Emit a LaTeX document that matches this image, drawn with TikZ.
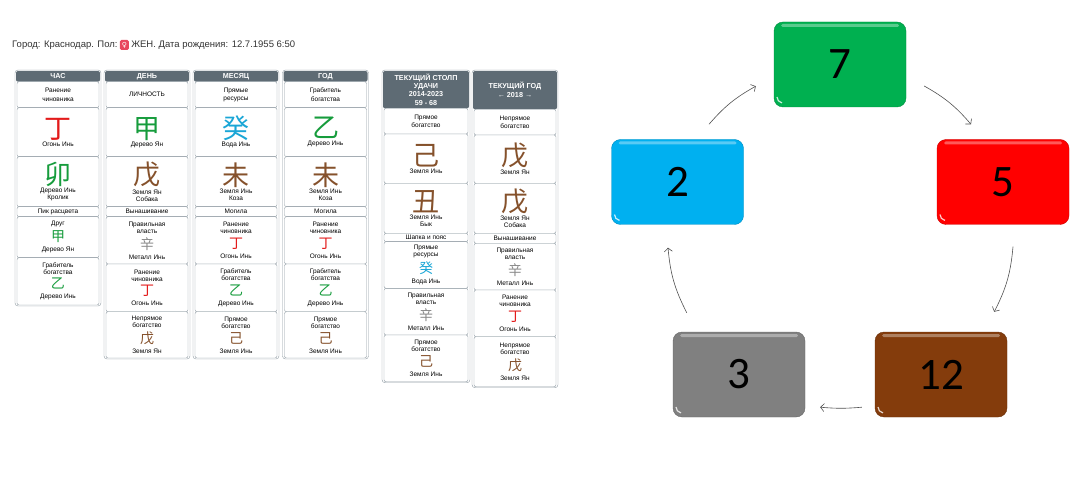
\documentclass[tikz,border=0pt]{standalone}
\usepackage{fontspec}
\setmainfont{Liberation Sans}
\newfontfamily\cjk{Noto Sans CJK SC}
\newfontfamily\numfont{Carlito}
\newfontfamily\symfont{DejaVu Sans}
\usetikzlibrary{arrows.meta,fit,positioning}
\definecolor{chartLine}{HTML}{8E9AA2}
\definecolor{headSlate}{HTML}{5E6B74}
\definecolor{infoText}{HTML}{333333}
\definecolor{genderPink}{HTML}{E8475F}
\definecolor{fireRed}{HTML}{E31B1B}
\definecolor{woodGreen}{HTML}{169C3C}
\definecolor{waterBlue}{HTML}{1AA6D6}
\definecolor{earthBrown}{HTML}{85512B}
\definecolor{metalGray}{HTML}{8A8A8A}
\definecolor{boxGreen}{HTML}{00B050}
\definecolor{boxRed}{HTML}{FF0000}
\definecolor{boxBlue}{HTML}{00B0F0}
\definecolor{boxBrown}{HTML}{843C0C}
\definecolor{boxGray}{HTML}{808080}
\definecolor{arrowGray}{HTML}{505050}
\newcommand{\bigsign}[2]{{\cjk\fontsize{27}{27}\selectfont\color{#1}#2}}
\newcommand{\smallsign}[2]{\\[3pt]{\cjk\fontsize{14}{14}\selectfont\color{#1}#2}\\[3pt]}
\tikzset{
  info/.style={font=\fontsize{9.5}{11}\selectfont, text=infoText,
    inner sep=0pt, text height=7pt, text depth=2pt},
  gender sign/.style={fill=genderPink, rounded corners=1.5pt, text=white,
    font=\symfont\fontsize{7}{7}\selectfont, minimum width=9pt,
    minimum height=10pt, inner sep=0pt},
  col head/.style={fill=headSlate, text=white, rounded corners=2pt,
    font=\bfseries\fontsize{7.2}{8.2}\selectfont, align=center,
    inner sep=0pt, outer sep=0pt, anchor=north},
  cell/.style={draw=chartLine, fill=white, rounded corners=2pt,
    align=center, inner sep=0pt, outer sep=0pt, minimum width=82pt,
    font=\fontsize{6.5}{7}\selectfont},
  role cell/.style={cell, font=\fontsize{6.5}{8.5}\selectfont},
  panel/.style={draw=chartLine, rounded corners=3pt, inner sep=1pt},
  cycle box/.style={rounded corners=9pt, minimum width=132pt,
    minimum height=85pt, inner sep=0pt,
    font=\numfont\fontsize{45}{45}\selectfont,
    path picture={
      \fill[white, opacity=.35, rounded corners=1.5pt]
        ([xshift=7pt,yshift=-2pt]path picture bounding box.north west)
        rectangle ([xshift=-7pt,yshift=-5pt]path picture bounding box.north east);
      \draw[white, opacity=.8, line width=1.2pt]
        ([xshift=3pt,yshift=10pt]path picture bounding box.south west)
        arc[start angle=180, end angle=260, radius=6pt];
    }},
  cycle arrow/.style={-{Straight Barb[length=3.5pt,width=8pt]},
    draw=arrowGray, line width=0.6pt}
}
\begin{document}
\begin{tikzpicture}[x=1pt, y=-1pt]
  \useasboundingbox (0,0) rectangle (1089,486);
  % birth data line
  \node[info, anchor=west] (cityInfo) at (12,45) {Город: Краснодар. Пол:};
  \node[gender sign, right=2pt of cityInfo] (sexSign) {♀};
  \node[info, right=2pt of sexSign] (birthInfo) {ЖЕН. Дата рождения: 12.7.1955 6:50};

  % hour pillar
  \node[col head, minimum width=84pt, minimum height=10.7pt] (hourHead) at (58,71) {ЧАС};
  \node[role cell, minimum height=26pt, below=0pt of hourHead] (hourRole) {Ранение\\чиновника};
  \node[cell, minimum height=49pt, below=0pt of hourRole] (hourStem) {\bigsign{fireRed}{丁}\\[1pt]Огонь Инь};
  \node[cell, minimum height=50pt, below=0pt of hourStem] (hourBranch) {\bigsign{woodGreen}{卯}\\[1pt]Дерево Инь\\Кролик};
  \node[cell, minimum height=10pt, below=0pt of hourBranch] (hourStage) {Пик расцвета};
  \node[cell, minimum height=41pt, below=0pt of hourStage] (hourHidA) {Друг\smallsign{woodGreen}{甲}Дерево Ян};
  \node[cell, minimum height=47.3pt, below=0pt of hourHidA] (hourHidB) {Грабитель\\богатства\smallsign{woodGreen}{乙}Дерево Инь};
  \node[panel, fit=(hourHead)(hourHidB)] (hourPanel) {};

  % day pillar
  \node[col head, minimum width=84pt, minimum height=10.7pt] (dayHead) at (147,71) {ДЕНЬ};
  \node[role cell, minimum height=26pt, below=0pt of dayHead] (dayRole) {ЛИЧНОСТЬ};
  \node[cell, minimum height=49pt, below=0pt of dayRole] (dayStem) {\bigsign{woodGreen}{甲}\\[1pt]Дерево Ян};
  \node[cell, minimum height=50pt, below=0pt of dayStem] (dayBranch) {\bigsign{earthBrown}{戊}\\[1pt]Земля Ян\\Собака};
  \node[cell, minimum height=10pt, below=0pt of dayBranch] (dayStage) {Вынашивание};
  \node[cell, minimum height=47.3pt, below=0pt of dayStage] (dayHidA) {Правильная\\власть\smallsign{metalGray}{辛}Металл Инь};
  \node[cell, minimum height=47.7pt, below=0pt of dayHidA] (dayHidB) {Ранение\\чиновника\smallsign{fireRed}{丁}Огонь Инь};
  \node[cell, minimum height=46.3pt, below=0pt of dayHidB] (dayHidC) {Непрямое\\богатство\smallsign{earthBrown}{戊}Земля Ян};
  \node[panel, fit=(dayHead)(dayHidC)] (dayPanel) {};

  % month pillar
  \node[col head, minimum width=84pt, minimum height=10.7pt] (monthHead) at (236,71) {МЕСЯЦ};
  \node[role cell, minimum height=26pt, below=0pt of monthHead] (monthRole) {Прямые\\ресурсы};
  \node[cell, minimum height=49pt, below=0pt of monthRole] (monthStem) {\bigsign{waterBlue}{癸}\\[1pt]Вода Инь};
  \node[cell, minimum height=50pt, below=0pt of monthStem] (monthBranch) {\bigsign{earthBrown}{未}\\[1pt]Земля Инь\\Коза};
  \node[cell, minimum height=10pt, below=0pt of monthBranch] (monthStage) {Могила};
  \node[cell, minimum height=47.3pt, below=0pt of monthStage] (monthHidA) {Ранение\\чиновника\smallsign{fireRed}{丁}Огонь Инь};
  \node[cell, minimum height=47.7pt, below=0pt of monthHidA] (monthHidB) {Грабитель\\богатства\smallsign{woodGreen}{乙}Дерево Инь};
  \node[cell, minimum height=46.3pt, below=0pt of monthHidB] (monthHidC) {Прямое\\богатство\smallsign{earthBrown}{己}Земля Инь};
  \node[panel, fit=(monthHead)(monthHidC)] (monthPanel) {};

  % year pillar
  \node[col head, minimum width=84pt, minimum height=10.7pt] (yearHead) at (325.5,71) {ГОД};
  \node[role cell, minimum height=26pt, below=0pt of yearHead] (yearRole) {Грабитель\\богатства};
  \node[cell, minimum height=49pt, below=0pt of yearRole] (yearStem) {\bigsign{woodGreen}{乙}\\[1pt]Дерево Инь};
  \node[cell, minimum height=50pt, below=0pt of yearStem] (yearBranch) {\bigsign{earthBrown}{未}\\[1pt]Земля Инь\\Коза};
  \node[cell, minimum height=10pt, below=0pt of yearBranch] (yearStage) {Могила};
  \node[cell, minimum height=47.3pt, below=0pt of yearStage] (yearHidA) {Ранение\\чиновника\smallsign{fireRed}{丁}Огонь Инь};
  \node[cell, minimum height=47.7pt, below=0pt of yearHidA] (yearHidB) {Грабитель\\богатства\smallsign{woodGreen}{乙}Дерево Инь};
  \node[cell, minimum height=46.3pt, below=0pt of yearHidB] (yearHidC) {Прямое\\богатство\smallsign{earthBrown}{己}Земля Инь};
  \node[panel, fit=(yearHead)(yearHidC)] (yearPanel) {};

  % current luck pillar
  \node[col head, minimum width=86pt, minimum height=37.3pt] (luckHead) at (426,71)
    {ТЕКУЩИЙ СТОЛП\\УДАЧИ\\2014-2023\\59 - 68};
  \node[role cell, minimum width=84pt, minimum height=25.7pt, below=0pt of luckHead] (luckRole) {Прямое\\богатство};
  \node[cell, minimum width=84pt, minimum height=49.3pt, below=0pt of luckRole] (luckStem) {\bigsign{earthBrown}{己}\\[1pt]Земля Инь};
  \node[cell, minimum width=84pt, minimum height=50pt, below=0pt of luckStem] (luckBranch) {\bigsign{earthBrown}{丑}\\[1pt]Земля Инь\\Бык};
  \node[cell, minimum width=84pt, minimum height=8.4pt, below=0pt of luckBranch] (luckStage) {Шапка и пояс};
  \node[cell, minimum width=84pt, minimum height=46.6pt, below=0pt of luckStage] (luckHidA) {Прямые\\ресурсы\smallsign{waterBlue}{癸}Вода Инь};
  \node[cell, minimum width=84pt, minimum height=46.7pt, below=0pt of luckHidA] (luckHidB) {Правильная\\власть\smallsign{metalGray}{辛}Металл Инь};
  \node[cell, minimum width=84pt, minimum height=46.7pt, below=0pt of luckHidB] (luckHidC) {Прямое\\богатство\smallsign{earthBrown}{己}Земля Инь};
  \node[panel, fit=(luckHead)(luckHidC)] (luckPanel) {};

  % current year
  \node[col head, minimum width=84pt, minimum height=38.3pt] (curHead) at (515,71)
    {ТЕКУЩИЙ ГОД\\[1pt]← 2018 →};
  \node[role cell, minimum height=25.7pt, below=0pt of curHead] (curRole) {Непрямое\\богатство};
  \node[cell, minimum height=48.3pt, below=0pt of curRole] (curStem) {\bigsign{earthBrown}{戊}\\[1pt]Земля Ян};
  \node[cell, minimum height=50pt, below=0pt of curStem] (curBranch) {\bigsign{earthBrown}{戊}\\[1pt]Земля Ян\\Собака};
  \node[cell, minimum height=10pt, below=0pt of curBranch] (curStage) {Вынашивание};
  \node[cell, minimum height=46.7pt, below=0pt of curStage] (curHidA) {Правильная\\власть\smallsign{metalGray}{辛}Металл Инь};
  \node[cell, minimum height=46.7pt, below=0pt of curHidA] (curHidB) {Ранение\\чиновника\smallsign{fireRed}{丁}Огонь Инь};
  \node[cell, minimum height=50pt, below=0pt of curHidB] (curHidC) {Непрямое\\богатство\smallsign{earthBrown}{戊}Земля Ян};
  \node[panel, fit=(curHead)(curHidC)] (curPanel) {};

  % cycle of numbers
  \node[cycle box, fill=boxGreen, draw=boxGreen!80!black] (num7) at (840,64.5) {7};
  \node[cycle box, fill=boxRed, draw=boxRed!80!black] (num5) at (1003,182) {5};
  \node[cycle box, fill=boxBrown, draw=boxBrown!80!black] (num12) at (941,374.5) {12};
  \node[cycle box, fill=boxGray, draw=boxGray!80!black] (num3) at (739,374.5) {3};
  \node[cycle box, fill=boxBlue, draw=boxBlue!80!black] (num2) at (677.5,182) {2};
  \draw[cycle arrow] ([shift={(31.5,-15)}]num2.north) to[bend left=10] ([shift={(-18,-21)}]num7.south west);
  \draw[cycle arrow] ([shift={(18,21.5)}]num7.east) to[bend left=10] ([shift={(-32,-15)}]num5.north);
  \draw[cycle arrow] ([shift={(10,22)}]num5.south) to[bend left=11] ([shift={(-13,-20)}]num12.north east);
  \draw[cycle arrow] ([shift={(-13,-10)}]num12.south west) to[bend left=5] ([shift={(15,-10)}]num3.south east);
  \draw[cycle arrow] ([shift={(14,-19)}]num3.north west) to[bend left=11] ([shift={(-9.5,23)}]num2.south);
\end{tikzpicture}
\end{document}
